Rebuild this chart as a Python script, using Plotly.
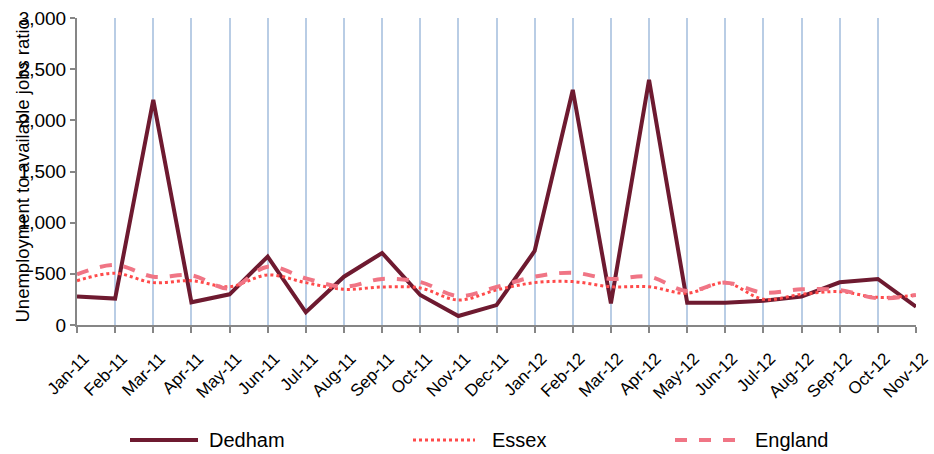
import plotly.graph_objects as go

# --- Datos ---
months = ["Jan-11", "Feb-11", "Mar-11", "Apr-11", "May-11", "Jun-11", "Jul-11", "Aug-11",
          "Sep-11", "Oct-11", "Nov-11", "Dec-11", "Jan-12", "Feb-12", "Mar-12", "Apr-12",
          "May-12", "Jun-12", "Jul-12", "Aug-12", "Sep-12", "Oct-12", "Nov-12"]

dedham = [278, 258, 2200, 222, 300, 668, 124, 472, 704, 293, 88, 195,
          723, 2297, 212, 2395, 218, 218, 238, 277, 417, 450, 179]

essex = [433, 505, 414, 433, 374, 489, 414, 349, 371, 362, 244, 342,
         414, 424, 374, 374, 310, 414, 251, 300, 326, 270, 293]

england = [495, 586, 472, 486, 358, 570, 456, 374, 450, 420, 283, 371,
           472, 511, 450, 472, 332, 414, 316, 349, 342, 261, 293]

# --- Estilos ---
series = [
    ("Dedham", dedham, dict(color="#6E1A30", width=4, dash="solid"), "linear"),
    ("Essex", essex, dict(color="#FF4A4A", width=3, dash="dot"), "spline"),
    ("England", england, dict(color="#F07585", width=4, dash="dash"), "spline"),
]

W, H = 934, 454
L, R, T, B = 77, 18, 18, 129
pw, ph = W - L - R, H - T - B

fig = go.Figure()
for name, vals, line, shape in series:
    fig.add_trace(go.Scatter(x=months, y=vals, mode="lines", name=name,
                             line=dict(shape=shape, **line), showlegend=False))

# --- Leyenda manual (muestras largas como en Excel) ---
legend_y = -(440 - (H - B)) / ph
legend_pos = [(130, 198, 207), (413, 475, 490), (675, 745, 753)]
for (name, vals, line, shape), (x0, x1, xt) in zip(series, legend_pos):
    fig.add_shape(type="line", xref="paper", yref="paper",
                  x0=(x0 - L) / pw, x1=(x1 - L) / pw, y0=legend_y, y1=legend_y,
                  line=line)
    fig.add_annotation(text=name, xref="paper", yref="paper",
                       x=(xt - L) / pw, y=legend_y, xanchor="left", yanchor="middle",
                       showarrow=False, font=dict(size=20, color="#000000"))

# --- Título eje Y (superpuesto a las etiquetas, como en el original) ---
fig.add_annotation(text="Unemployment to available jobs ratio", xref="paper", yref="paper",
                   x=(22 - L) / pw, y=0.5, textangle=-90, showarrow=False,
                   xanchor="center", yanchor="middle",
                   font=dict(size=18.5, color="#000000"))

fig.update_layout(
    width=W, height=H,
    margin=dict(l=L, r=R, t=T, b=B, autoexpand=False),
    plot_bgcolor="white", paper_bgcolor="white",
    font=dict(family="Liberation Sans, Arial", color="#000000"),
    xaxis=dict(type="category", range=[0, len(months) - 1], automargin=False,
               showgrid=True, gridcolor="#B9CDE5", gridwidth=2,
               showline=True, linecolor="#868686", linewidth=2,
               ticks="outside", ticklen=6, tickcolor="#868686", tickwidth=2,
               tickangle=-45, tickfont=dict(size=17),
               ticklabelstandoff=9, ticklabelshift=7),
    yaxis=dict(range=[0, 3000], dtick=500, tickformat=",", automargin=False,
               showgrid=False, zeroline=False,
               showline=True, linecolor="#868686", linewidth=2,
               ticks="outside", ticklen=5, tickcolor="#868686", tickwidth=2,
               tickfont=dict(size=19)),
)

# sin margen del body para que la figura ocupe la ventana entera
fig.write_html("out.html", config={"displayModeBar": False},
               post_script="document.body.style.margin='0';")
